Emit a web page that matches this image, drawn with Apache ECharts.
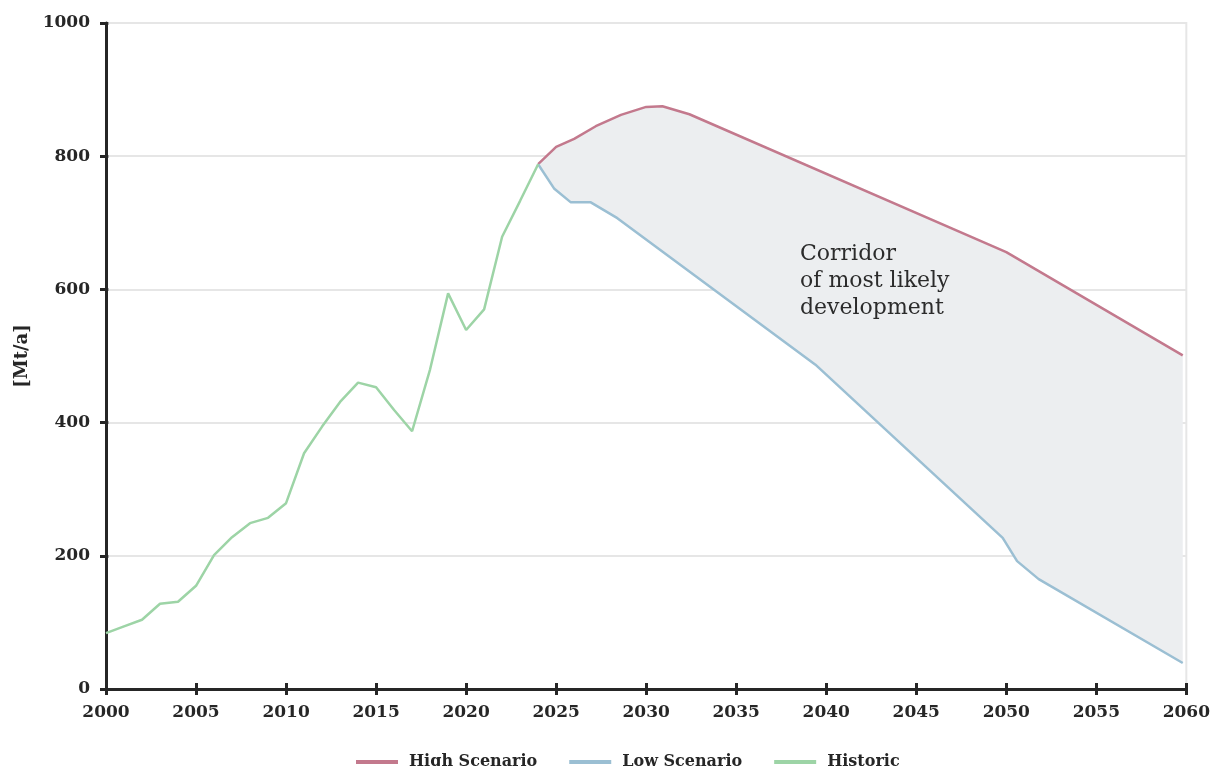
<!DOCTYPE html>
<html>
<head>
<meta charset="utf-8">
<script src="https://cdn.jsdelivr.net/npm/echarts@6/dist/echarts.min.js"></script>
<style>
  html, body { margin: 0; padding: 0; background: #fff; }
  #chart { width: 1213px; height: 766px; }
</style>
</head>
<body>
<div id="chart"></div>
<script>
// historic values, one per year
const historicYears = [2000, 2001, 2002, 2003, 2004, 2005, 2006, 2007, 2008, 2009, 2010, 2011, 2012,
  2013, 2014, 2015, 2016, 2017, 2018, 2019, 2020, 2021, 2022, 2023, 2024];
const historicValues = [84, 94, 104, 128, 131, 155, 201, 228, 249, 257, 279, 354, 394,
  431, 460, 453, 419, 387, 480, 594, 539, 570, 679, 733, 788];

// scenarios (break points)
const highYears = [2024, 2025, 2026, 2027.2, 2028.6, 2030, 2030.9, 2032.4, 2050, 2059.8];
const highValues = [788, 814, 826, 845, 862, 874, 875, 863, 656, 501];
const lowYears = [2024, 2024.9, 2025.8, 2026.9, 2028.4, 2039.4, 2049.8, 2050.6, 2051.8, 2059.8];
const lowValues = [788, 751, 731, 731, 707, 487, 227, 192, 165, 39];

const yTicks = [0, 200, 400, 600, 800, 1000];
const xTicks = [2000, 2005, 2010, 2015, 2020, 2025, 2030, 2035, 2040, 2045, 2050, 2055, 2060];

const font = "DejaVu Serif";
const ink = "#262626";

const zip = (xs, ys) => xs.map((x, i) => [x, ys[i]]);
const historic = zip(historicYears, historicValues);
const high = zip(highYears, highValues);
const low = zip(lowYears, lowValues);

const chart = echarts.init(document.getElementById("chart"));

const xBase = {
  type: "value",
  min: xTicks[0],
  max: xTicks[xTicks.length - 1],
  interval: 5,
};
const yBase = {
  type: "value",
  min: yTicks[0],
  max: yTicks[yTicks.length - 1],
  interval: 200,
};
const tickStyle = { color: ink, width: 3 };
const plain = (v) => String(v);

chart.setOption({
  animation: false,
  grid: {
    left: 106,
    right: 23,
    top: 23,
    bottom: 77,
    show: true,
    borderColor: "#e6e6e6",
    borderWidth: 2,
  },
  legend: {
    left: 351,
    top: 749,
    icon: "rect",
    itemWidth: 42,
    itemHeight: 4,
    itemGap: 32,
    data: ["High Scenario", "Low Scenario", "Historic"],
    textStyle: { fontFamily: font, fontWeight: "bold", fontSize: 16, color: ink, padding: [0, 0, 0, 6] },
  },
  xAxis: [
    {
      ...xBase,
      position: "bottom",
      axisLine: { onZero: false, lineStyle: { color: ink, width: 3 } },
      axisTick: { show: true, inside: false, length: 6, lineStyle: tickStyle },
      axisLabel: { fontFamily: font, fontWeight: "bold", fontSize: 17, color: ink, margin: 15, formatter: plain },
      splitLine: { show: false },
    },
    {
      // inner half of the crossing ticks (top axis moved down onto the bottom edge)
      ...xBase,
      position: "top",
      offset: -666,
      axisLine: { show: false, onZero: false },
      axisTick: { show: true, inside: false, length: 6, lineStyle: tickStyle },
      axisLabel: { show: false },
      splitLine: { show: false },
    },
  ],
  yAxis: [
    {
      ...yBase,
      position: "left",
      name: "[Mt/a]",
      nameLocation: "middle",
      nameGap: 74,
      nameTextStyle: { fontFamily: font, fontWeight: "bold", fontSize: 18, color: ink },
      axisLine: { show: true, onZero: false, lineStyle: { color: ink, width: 3 } },
      axisTick: { show: true, inside: false, length: 6, lineStyle: tickStyle },
      axisLabel: { fontFamily: font, fontWeight: "bold", fontSize: 17, color: ink, margin: 16, formatter: plain },
      splitLine: { show: true, lineStyle: { color: "#e6e6e6", width: 2 } },
    },
    {
      ...yBase,
      position: "right",
      offset: -1084,
      axisLine: { show: false, onZero: false },
      axisTick: { show: true, inside: false, length: 6, lineStyle: tickStyle },
      axisLabel: { show: false },
      splitLine: { show: false },
    },
  ],
  graphic: [
    {
      type: "text",
      x: 800,
      y: 241,
      z: 10,
      style: {
        text: "Corridor\nof most likely\ndevelopment",
        fontFamily: font,
        fontSize: 22,
        lineHeight: 27,
        fill: "#2b2b2b",
        align: "left",
        verticalAlign: "top",
      },
    },
  ],
  series: [
    {
      // corridor between high and low scenario
      type: "custom",
      silent: true,
      z: 1,
      data: [high[0]],
      renderItem: (params, api) => {
        const pts = high.map((p) => api.coord(p)).concat(low.slice().reverse().map((p) => api.coord(p)));
        return { type: "polygon", shape: { points: pts }, style: { fill: "#eceef0" } };
      },
    },
    {
      name: "High Scenario",
      type: "line",
      symbol: "none",
      z: 3,
      data: high,
      itemStyle: { color: "#c3798d" },
      lineStyle: { color: "#c3798d", width: 2.5 },
    },
    {
      name: "Low Scenario",
      type: "line",
      symbol: "none",
      z: 3,
      data: low,
      itemStyle: { color: "#9bbfd3" },
      lineStyle: { color: "#9bbfd3", width: 2.5 },
    },
    {
      name: "Historic",
      type: "line",
      symbol: "none",
      z: 3,
      data: historic,
      itemStyle: { color: "#9dd4a6" },
      lineStyle: { color: "#9dd4a6", width: 2.5 },
    },
  ],
});
</script>
</body>
</html>
